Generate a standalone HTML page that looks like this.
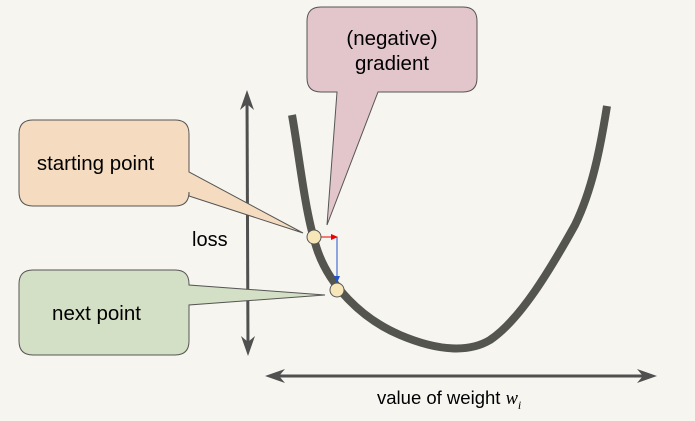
<!DOCTYPE html>
<html><head><meta charset="utf-8"><style>
html,body{margin:0;padding:0;background:#f6f5f0;}
svg{display:block}
text{font-family:"Liberation Sans",sans-serif;fill:#000}
</style></head><body>
<svg width="695" height="421" viewBox="0 0 695 421" xmlns="http://www.w3.org/2000/svg">
<rect width="695" height="421" fill="#f6f5f0"/>
<line x1="247" y1="96" x2="248" y2="350" stroke="#505050" stroke-width="3"/>
<path d="M247,90 L240,110 L247,104 L254,110 z" fill="#505050"/>
<path d="M248,356 L241,336 L248,342 L255,336 z" fill="#505050"/>
<line x1="272" y1="376" x2="650" y2="376" stroke="#505050" stroke-width="3"/>
<path d="M265,376 L285,369 L279,376 L285,383 z" fill="#505050"/>
<path d="M657,376 L637,369 L643,376 L637,383 z" fill="#505050"/>
<path d="M292,115 C300,160 305,215 318,252 C330,285 360,318 400,335 C440,352 470,352 490,340 C520,320 550,270 575,225 C592,190 600,150 607,106" fill="none" stroke="#555550" stroke-width="8"/>
<path d="M33,120 H175 Q189,120 189,134 V172 L303,233 L189,196 V192 Q189,206 175,206 H33 Q19,206 19,192 V134 Q19,120 33,120 z" fill="#f5dcc0" stroke="#555" stroke-width="1"/>
<path d="M321,7 H463 Q477,7 477,21 V78 Q477,92 463,92 H378 L327,225 L337,92 H321 Q307,92 307,78 V21 Q307,7 321,7 z" fill="#e2c6cc" stroke="#555" stroke-width="1"/>
<path d="M33,270 H175 Q189,270 189,284 V285 L325,295 L189,305 V341 Q189,355 175,355 H33 Q19,355 19,341 V284 Q19,270 33,270 z" fill="#d4e0c5" stroke="#555" stroke-width="1"/>
<line x1="320" y1="237" x2="332" y2="237" stroke="#e00" stroke-width="1"/>
<path d="M338,237 L331,234 L331,240 z" fill="#e00"/>
<line x1="337" y1="237" x2="337" y2="276" stroke="#2255cc" stroke-width="1"/>
<path d="M337,283 L334,276 L340,276 z" fill="#2255cc"/>
<circle cx="314" cy="237" r="7" fill="#f7e6b8" stroke="#555" stroke-width="1"/>
<circle cx="337" cy="290" r="7" fill="#f7e6b8" stroke="#555" stroke-width="1"/>
<text x="95.5" y="170" font-size="20.5" text-anchor="middle">starting point</text>
<text x="392" y="45" font-size="20.5" text-anchor="middle">(negative)</text>
<text x="392" y="70" font-size="20.5" text-anchor="middle">gradient</text>
<text x="96.5" y="320" font-size="20.5" text-anchor="middle">next point</text>
<text x="192" y="246" font-size="20">loss</text>
<text x="377" y="404" font-size="18.5">value of weight <tspan font-family="Liberation Serif" font-style="italic">w</tspan><tspan font-family="Liberation Serif" font-style="italic" font-size="12" dy="5">i</tspan></text>
</svg>
</body></html>
